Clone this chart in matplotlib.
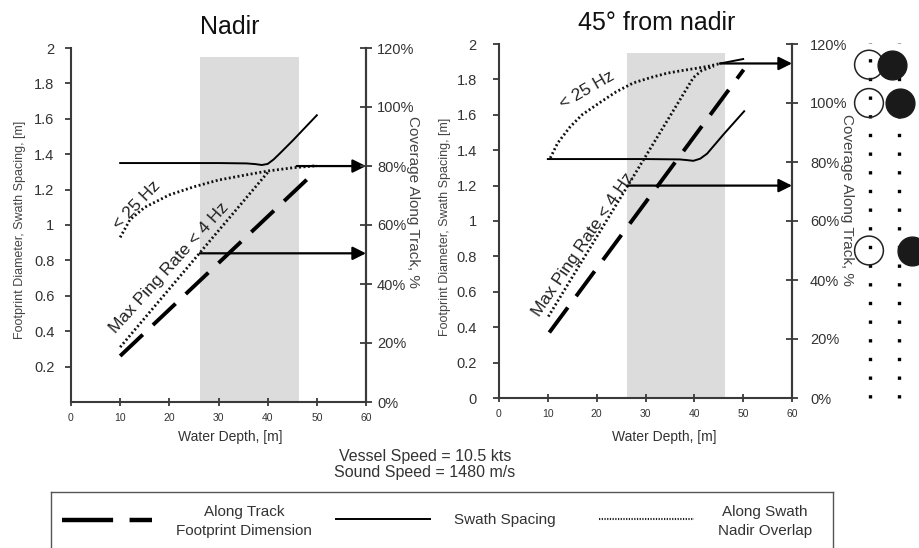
import matplotlib
matplotlib.use('Agg')
import matplotlib.pyplot as plt

plt.rcParams['font.family'] = ['Liberation Sans', 'DejaVu Sans']

# ---------------- data ----------------
depth_ticks = [0, 10, 20, 30, 40, 50, 60]
left_yticks = [0.2, 0.4, 0.6, 0.8, 1.0, 1.2, 1.4, 1.6, 1.8, 2.0]
left_ylabels = ['0.2', '0.4', '0.6', '0.8', '1', '1.2', '1.4', '1.6', '1.8', '2']
right_yticks = [0, 0.2, 0.4, 0.6, 0.8, 1.0, 1.2, 1.4, 1.6, 1.8, 2.0]
right_ylabels = ['0', '0.2', '0.4', '0.6', '0.8', '1', '1.2', '1.4', '1.6', '1.8', '2']
pct_ticks = [0, 20, 40, 60, 80, 100, 120]
pct_labels = ['0%', '20%', '40%', '60%', '80%', '100%', '120%']

band_depth = [26.3, 46.3]
band_top = 1.95

# Nadir panel
nadir_dash_x = [10, 50]
nadir_dash_y = [0.26, 1.31]
nadir_swath_x = [10, 20, 30, 35.7, 37.5, 38.8, 40.0, 41.2, 42.5, 45.2, 50]
nadir_swath_y = [1.35, 1.35, 1.35, 1.348, 1.344, 1.339, 1.345, 1.37, 1.405, 1.48, 1.62]
nadir_25hz_x = [10, 12, 15, 20, 25, 30, 35, 40, 45, 50]
nadir_25hz_y = [0.93, 1.03, 1.10, 1.17, 1.216, 1.254, 1.28, 1.305, 1.323, 1.335]
nadir_4hz_x = [10, 40.1]
nadir_4hz_y = [0.31, 1.30]
nadir_arrow_x0 = [45.9, 26.2]
nadir_arrow_y = [1.333, 0.84]

# 45 deg from nadir panel
oblq_dash_x = [10.3, 50.1]
oblq_dash_y = [0.37, 1.855]
oblq_swath_x = [10, 20, 30, 37, 38.5, 39.8, 41.2, 42.6, 46, 50.2]
oblq_swath_y = [1.35, 1.35, 1.35, 1.348, 1.344, 1.34, 1.352, 1.38, 1.49, 1.62]
oblq_25hz_x = [10.5, 12, 14.5, 17, 20.7, 24, 27.5, 31, 34.4, 37.5, 40.5, 43, 45.3]
oblq_25hz_y = [1.356, 1.44, 1.53, 1.60, 1.67, 1.73, 1.78, 1.81, 1.835, 1.85, 1.863, 1.875, 1.89]
oblq_4hz_x = [10.1, 39.8, 41.5, 44]
oblq_4hz_y = [0.46, 1.81, 1.85, 1.875]
oblq_top_x = [45.3, 50]
oblq_top_y = [1.89, 1.915]
oblq_arrow_x0 = [45.3, 26.3]
oblq_arrow_y = [1.89, 1.2]

# overlap sketch (percent rows, filled-circle offset in px)
circle_rows_pct = [113, 100, 50]
circle_offsets = [23, 31, 43]

# ---------------- figure ----------------
W, H = 919, 548
fig = plt.figure(figsize=(W / 100, H / 100), dpi=100)

def px_rect(x0, y0, x1, y1):
    return [x0 / W, 1 - y1 / H, (x1 - x0) / W, (y1 - y0) / H]

AX_COL = '#3a3a3a'
TXT = '#333333'
DOT = (0, (0.7, 0.9))


def panel(rect, title, dash, swath, hz25, hz4, arrows_x0, arrows_y, yticks, ylabels,
          lab25, lab4, extra=None, rpad=3):
    ax = fig.add_axes(rect)
    ax.set_xlim(0, 60)
    ax.set_ylim(0, 2)
    ax.axvspan(band_depth[0], band_depth[1], ymin=0, ymax=band_top / 2,
               color='#dcdcdc', lw=0, zorder=0)
    ax.plot(dash[0], dash[1], color='black', lw=2.8, ls=(0, (8, 3.6)),
            solid_capstyle='butt', dash_capstyle='butt', zorder=3)
    ax.plot(swath[0], swath[1], color='black', lw=1.4, zorder=3)
    ax.plot(hz25[0], hz25[1], color='#111111', lw=2.0, ls=DOT, zorder=3)
    ax.plot(hz4[0], hz4[1], color='#111111', lw=2.0, ls=DOT, zorder=3)
    if extra is not None:
        ax.plot(extra[0], extra[1], color='black', lw=1.4, zorder=3)
    for x0, y in zip(arrows_x0, arrows_y):
        ax.annotate('', xy=(60, y), xytext=(x0, y),
                    arrowprops=dict(arrowstyle='-|>', color='black', lw=1.6,
                                    mutation_scale=20, shrinkA=0, shrinkB=0),
                    annotation_clip=False, zorder=4)
    ax.spines['top'].set_visible(False)
    for sp in ['left', 'bottom', 'right']:
        ax.spines[sp].set_color(AX_COL)
        ax.spines[sp].set_linewidth(1.5)
    ax.set_xticks(depth_ticks)
    ax.set_xticklabels([str(t) for t in depth_ticks], fontsize=7.5, color=TXT)
    ax.tick_params(axis='x', direction='inout', length=6, width=1.3, color=AX_COL, pad=5)
    ax.set_yticks(yticks)
    ax.set_yticklabels(ylabels, fontsize=10.5, color=TXT)
    ax.tick_params(axis='y', direction='out', length=4, width=1.3, color=AX_COL, pad=rpad)

    ax2 = ax.twinx()
    ax2.set_ylim(0, 120)
    ax2.set_yticks(pct_ticks)
    ax2.set_yticklabels(pct_labels, fontsize=10.5, color=TXT)
    ax2.tick_params(axis='y', direction='inout', length=8, width=1.3, color=AX_COL, pad=4)
    for sp in ['top', 'left', 'bottom']:
        ax2.spines[sp].set_visible(False)
    ax2.spines['right'].set_color(AX_COL)
    ax2.spines['right'].set_linewidth(1.5)

    ax.text(0.539, 1.06, title, transform=ax.transAxes, ha='center', va='center',
            fontsize=18, color='#111111')
    ax.text(lab25[0], lab25[1], '< 25 Hz', rotation=lab25[2], rotation_mode='anchor',
            ha='center', va='center', fontsize=12.5, color='#222222', zorder=5)
    ax.text(lab4[0], lab4[1], 'Max Ping Rate < 4 Hz', rotation=lab4[2],
            rotation_mode='anchor', ha='center', va='center', fontsize=12.5,
            color='#222222', zorder=5)
    return ax, ax2


axL, axL2 = panel(px_rect(71, 48, 366, 402), 'Nadir',
                  (nadir_dash_x, nadir_dash_y), (nadir_swath_x, nadir_swath_y),
                  (nadir_25hz_x, nadir_25hz_y), (nadir_4hz_x, nadir_4hz_y),
                  nadir_arrow_x0, nadir_arrow_y, left_yticks, left_ylabels,
                  (13.3, 1.11, 46), (20.0, 0.76, 48), rpad=8)
axR, axR2 = panel(px_rect(499, 44, 792, 398), '45° from nadir',
                  (oblq_dash_x, oblq_dash_y), (oblq_swath_x, oblq_swath_y),
                  (oblq_25hz_x, oblq_25hz_y), (oblq_4hz_x, oblq_4hz_y),
                  oblq_arrow_x0, oblq_arrow_y, right_yticks, right_ylabels,
                  (18.0, 1.74, 30), (17.2, 0.87, 56), extra=(oblq_top_x, oblq_top_y),
                  rpad=12)
axR2.tick_params(axis='y', pad=9)

# axis labels
for x, y in [(20, 230), (445, 227)]:
    fig.text(x / W, 1 - y / H, 'Footprint Diameter, Swath Spacing, [m]', rotation=90,
             ha='center', va='center', fontsize=9, color='#444444')
for x, y in [(413, 202), (847, 200)]:
    fig.text(x / W, 1 - y / H, 'Coverage Along Track, %', rotation=270,
             ha='center', va='center', fontsize=11, color='#444444')
for x in [230, 664]:
    fig.text(x / W, 1 - 437 / H, 'Water Depth, [m]', ha='center', va='center',
             fontsize=10, color=TXT)

fig.text(425 / W, 1 - 457 / H, 'Vessel Speed = 10.5 kts', ha='center', va='center',
         fontsize=11.5, color=TXT)
fig.text(425 / W, 1 - 472 / H, 'Sound Speed = 1480 m/s', ha='center', va='center',
         fontsize=11.5, color=TXT)

# overlap sketch on the right
axC = fig.add_axes(px_rect(850, 44, 919, 398))
axC.set_xlim(850, 919)
axC.set_ylim(0, 120)
axC.axis('off')
col_open_x = 870
col_fill_x = 899
for cx in [col_open_x, col_fill_x]:
    axC.plot([cx, cx], [0, 120.5], color='black', lw=2.4, ls=(0, (1, 4.6)),
             dash_capstyle='butt', clip_on=False, zorder=2)
for pct, off in zip(circle_rows_pct, circle_offsets):
    axC.scatter([col_open_x - 1], [pct], s=430, facecolor='none', edgecolor='#222222',
                linewidth=1.1, clip_on=False, zorder=3)
    axC.scatter([col_open_x - 1 + off], [pct], s=430, facecolor='#1a1a1a',
                edgecolor='#1a1a1a', linewidth=1, clip_on=False, zorder=4)

# legend box
axLg = fig.add_axes(px_rect(51, 492, 833, 565))
axLg.set_xlim(51, 833)
axLg.set_ylim(565, 492)
axLg.set_xticks([])
axLg.set_yticks([])
for sp in axLg.spines.values():
    sp.set_color('#555555')
    sp.set_linewidth(1.0)
axLg.plot([62, 152], [520, 520], color='black', lw=3.2, ls=(0, (11.5, 3.7)),
          dash_capstyle='butt')
axLg.plot([336, 430], [519, 519], color='black', lw=1.4)
axLg.plot([599, 694], [519, 519], color='#222222', lw=1.5, ls=(0, (0.6, 0.7)))
axLg.text(244, 512, 'Along Track', ha='center', va='center', fontsize=11, color=TXT)
axLg.text(244, 531, 'Footprint Dimension', ha='center', va='center', fontsize=11, color=TXT)
axLg.text(505, 520, 'Swath Spacing', ha='center', va='center', fontsize=11, color=TXT)
axLg.text(765, 512, 'Along Swath', ha='center', va='center', fontsize=11, color=TXT)
axLg.text(765, 531, 'Nadir Overlap', ha='center', va='center', fontsize=11, color=TXT)

fig.savefig('out.png', dpi=100)
